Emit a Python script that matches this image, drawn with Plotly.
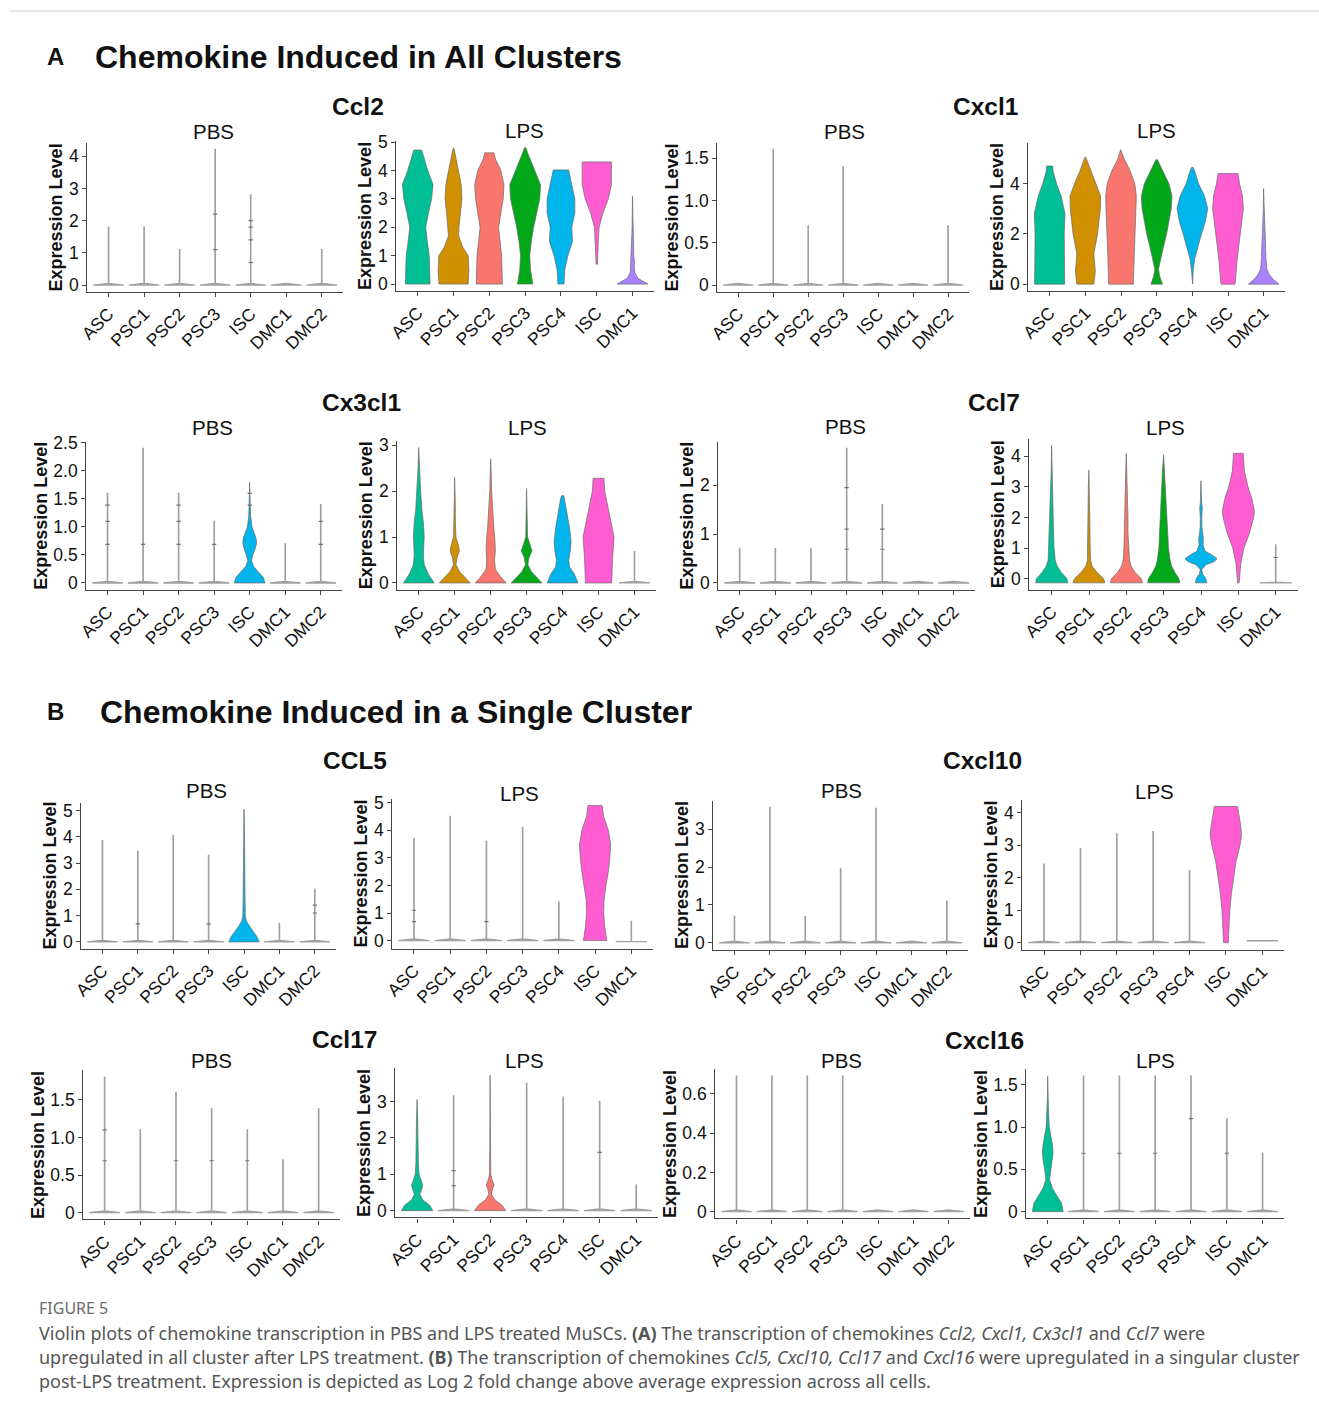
import plotly.graph_objects as go

W, H = 1319, 1414
FONT = "Liberation Sans, Arial, sans-serif"

PBS_CLUSTERS = ["ASC", "PSC1", "PSC2", "PSC3", "ISC", "DMC1", "DMC2"]
LPS_CLUSTERS = ["ASC", "PSC1", "PSC2", "PSC3", "PSC4", "ISC", "DMC1"]
PALETTE = ["#00BF96", "#D09000", "#F8766D", "#00A81A", "#00B4EC", "#FF5CD2", "#AA82FF"]

# Each violin: a number = max value of a collapsed (almost all zero) violin,
# or a density profile [[expression, relative half-width], ...]
CCL2_PBS = [1.8, 1.8, 1.1, 4.2, 2.8, 0.0, 1.1]
CCL2_LPS = [
    [[0, 0.8], [0.5, 0.78], [1, 0.75], [1.5, 0.62], [2, 0.52], [2.5, 0.7], [3, 0.9], [3.5, 1.0], [4, 0.65], [4.5, 0.38], [4.72, 0.25]],
    [[0, 0.95], [0.5, 1.0], [1, 0.95], [1.3, 0.6], [1.7, 0.33], [2, 0.35], [2.5, 0.45], [3, 0.55], [3.5, 0.5], [4, 0.32], [4.5, 0.15], [4.78, 0.03]],
    [[0, 0.85], [1, 0.8], [2, 0.6], [2.5, 0.75], [3, 0.9], [3.5, 0.95], [4, 0.75], [4.4, 0.4], [4.62, 0.3]],
    [[0, 0.5], [0.5, 0.35], [1, 0.3], [1.5, 0.4], [2, 0.55], [2.5, 0.75], [3, 0.95], [3.5, 1.0], [4, 0.6], [4.5, 0.25], [4.8, 0.04]],
    [[0, 0.2], [0.5, 0.25], [1, 0.45], [1.5, 0.75], [1.8, 0.72], [2, 0.7], [2.5, 0.9], [3, 0.9], [3.5, 0.7], [4.02, 0.5]],
    [[0.7, 0.04], [1, 0.08], [1.5, 0.1], [2, 0.15], [2.5, 0.4], [3, 0.75], [3.5, 0.95], [4, 0.95], [4.3, 0.95]],
    [[0, 1.0], [0.1, 0.7], [0.2, 0.35], [0.4, 0.15], [0.6, 0.1], [0.8, 0.12], [1.0, 0.08], [1.5, 0.06], [2, 0.03], [3.1, 0.008]],
]
CXCL1_PBS = [0.0, 1.6, 0.7, 1.4, 0.0, 0.0, 0.7]
CXCL1_LPS = [
    [[0, 0.98], [1, 0.95], [2, 0.95], [2.8, 1.0], [3.5, 0.75], [4, 0.45], [4.5, 0.22], [4.7, 0.2]],
    [[0, 0.55], [0.5, 0.65], [0.9, 0.6], [1.2, 0.55], [2, 0.8], [2.5, 0.9], [3, 0.98], [3.5, 1.0], [4, 0.7], [4.5, 0.35], [5.05, 0.03]],
    [[0, 0.8], [1, 0.85], [2, 0.9], [3, 0.98], [3.5, 1.0], [4, 0.9], [4.5, 0.6], [5, 0.2], [5.35, 0.02]],
    [[0, 0.38], [0.3, 0.2], [0.6, 0.12], [1, 0.25], [1.5, 0.45], [2, 0.65], [2.5, 0.8], [3, 0.95], [3.5, 1.0], [4, 0.8], [4.5, 0.4], [4.95, 0.05]],
    [[0, 0.02], [0.5, 0.05], [1, 0.15], [1.5, 0.35], [2, 0.6], [2.5, 0.85], [3, 1.0], [3.5, 0.8], [4, 0.4], [4.5, 0.15], [4.65, 0.05]],
    [[0, 0.46], [1, 0.6], [2, 0.8], [3, 1.0], [3.5, 0.95], [4, 0.75], [4.4, 0.65]],
    [[0, 1.0], [0.2, 0.6], [0.4, 0.35], [0.6, 0.2], [1, 0.15], [1.5, 0.12], [2, 0.1], [2.5, 0.04], [3, 0.02], [3.8, 0.008]],
]
CX3CL1_PBS = [
    1.6, 2.4, 1.6, 1.1,
    [[0, 1.0], [0.1, 0.9], [0.2, 0.55], [0.3, 0.25], [0.4, 0.12], [0.5, 0.2], [0.6, 0.35], [0.7, 0.45], [0.8, 0.42], [0.9, 0.3], [1.0, 0.15], [1.2, 0.06], [1.4, 0.04], [1.6, 0.02], [1.8, 0.008]],
    0.7, 1.4,
]
CX3CL1_LPS = [
    [[0, 1.0], [0.2, 0.6], [0.4, 0.35], [0.6, 0.3], [0.8, 0.32], [1.0, 0.35], [1.3, 0.3], [1.6, 0.2], [2, 0.12], [2.5, 0.05], [2.95, 0.008]],
    [[0, 1.0], [0.1, 0.7], [0.25, 0.3], [0.4, 0.08], [0.55, 0.15], [0.7, 0.3], [0.8, 0.25], [1.0, 0.08], [1.3, 0.04], [1.8, 0.03], [2.3, 0.008]],
    [[0, 1.0], [0.15, 0.6], [0.3, 0.3], [0.5, 0.25], [0.7, 0.3], [0.9, 0.28], [1.2, 0.2], [1.6, 0.12], [2.0, 0.06], [2.7, 0.008]],
    [[0, 1.0], [0.1, 0.7], [0.25, 0.3], [0.4, 0.08], [0.55, 0.15], [0.7, 0.35], [0.85, 0.2], [1.0, 0.06], [1.5, 0.03], [2.05, 0.008]],
    [[0, 1.0], [0.2, 0.75], [0.35, 0.45], [0.5, 0.4], [0.7, 0.5], [0.9, 0.55], [1.2, 0.45], [1.5, 0.3], [1.8, 0.15], [1.9, 0.08]],
    [[0, 0.85], [0.5, 0.9], [1.0, 1.0], [1.5, 0.7], [2.0, 0.4], [2.28, 0.35]],
    0.68,
]
CCL7_PBS = [0.7, 0.7, 0.7, 2.75, 1.6, 0.0, 0.0]
CCL7_LPS = [
    [[-0.14, 1.0], [0, 0.95], [0.2, 0.6], [0.4, 0.35], [0.6, 0.22], [1, 0.15], [1.5, 0.12], [2, 0.1], [2.5, 0.08], [3, 0.06], [3.5, 0.03], [4.35, 0.005]],
    [[-0.14, 1.0], [0, 0.9], [0.2, 0.5], [0.4, 0.2], [0.6, 0.1], [1, 0.07], [2, 0.05], [3, 0.04], [3.55, 0.008]],
    [[-0.14, 1.0], [0, 0.92], [0.2, 0.55], [0.4, 0.3], [0.6, 0.2], [1, 0.15], [1.5, 0.1], [2, 0.1], [2.5, 0.08], [3, 0.06], [3.5, 0.04], [4.1, 0.005]],
    [[-0.14, 1.0], [0, 0.95], [0.2, 0.7], [0.4, 0.5], [0.6, 0.4], [1, 0.3], [1.5, 0.25], [2, 0.2], [2.5, 0.15], [3, 0.12], [3.5, 0.08], [4.05, 0.005]],
    [[-0.14, 0.35], [0, 0.3], [0.15, 0.1], [0.3, 0.05], [0.45, 0.3], [0.55, 0.8], [0.65, 1.0], [0.8, 0.6], [0.9, 0.25], [1.1, 0.12], [1.3, 0.15], [1.45, 0.1], [1.7, 0.05], [2, 0.05], [2.3, 0.08], [2.5, 0.04], [3, 0.02], [3.2, 0.008]],
    [[-0.14, 0.05], [0, 0.08], [0.5, 0.15], [1, 0.35], [1.5, 0.7], [2, 0.95], [2.2, 1.0], [2.6, 0.85], [3, 0.6], [3.5, 0.38], [4.1, 0.3]],
    [[-0.14, 1.0], [-0.12, 0.012], [1.1, 0.012]],
]
CCL5_PBS = [
    3.85, 3.45, 4.05, 3.3,
    [[0, 1.0], [0.2, 0.85], [0.4, 0.6], [0.6, 0.35], [0.8, 0.15], [1, 0.08], [1.5, 0.06], [2, 0.06], [3, 0.05], [3.5, 0.05], [4, 0.03], [4.15, 0.01], [5.05, 0.006]],
    0.7, 2.0,
]
CCL5_LPS = [
    3.7, 4.5, 3.6, 4.1, 1.4,
    [[0, 0.75], [0.5, 0.62], [1, 0.55], [1.5, 0.58], [2, 0.7], [2.5, 0.85], [3, 0.95], [3.5, 1.0], [4, 0.85], [4.5, 0.55], [4.9, 0.45]],
    [[-0.04, 1.0], [-0.03, 0.012], [0.7, 0.012]],
]
CXCL10_PBS = [0.7, 3.58, 0.7, 1.95, 3.55, 0.0, 1.1]
CXCL10_LPS = [
    2.42, 2.9, 3.35, 3.42, 2.22,
    [[0, 0.15], [0.5, 0.2], [1, 0.25], [1.5, 0.35], [2, 0.5], [2.5, 0.65], [3, 0.9], [3.3, 1.0], [3.6, 0.95], [4, 0.8], [4.2, 0.75]],
    [[0.06, 1.0], [0.06, 0.0]],
]
CCL17_PBS = [1.8, 1.1, 1.6, 1.38, 1.1, 0.7, 1.38]
CCL17_LPS = [
    [[0, 1.0], [0.15, 0.8], [0.3, 0.35], [0.45, 0.18], [0.6, 0.3], [0.7, 0.35], [0.85, 0.25], [1.0, 0.12], [1.3, 0.08], [1.6, 0.05], [2, 0.05], [2.5, 0.04], [3.05, 0.008]],
    3.15,
    [[0, 1.0], [0.15, 0.75], [0.3, 0.3], [0.45, 0.08], [0.6, 0.15], [0.7, 0.25], [0.85, 0.12], [1.0, 0.04], [1.5, 0.03], [2, 0.02], [2.8, 0.01], [3.72, 0.006]],
    3.5, 3.12, 3.0, 0.7,
]
CXCL16_PBS = [0.69, 0.69, 0.69, 0.69, 0.0, 0.0, 0.0]
CXCL16_LPS = [
    [[0, 1.0], [0.1, 0.9], [0.2, 0.55], [0.28, 0.3], [0.38, 0.12], [0.5, 0.2], [0.6, 0.3], [0.7, 0.35], [0.8, 0.3], [0.9, 0.2], [1.0, 0.1], [1.2, 0.05], [1.42, 0.01], [1.6, 0.006]],
    1.6, 1.6, 1.6, 1.6, 1.1, 0.69,
]

# visible individual cells along the stems: [cluster index, expression]
CCL2_PBS_PTS = [[3, 1.1], [3, 2.2], [4, 0.7], [4, 1.4], [4, 1.8], [4, 2.0]]
CX3CL1_PBS_PTS = [[0, 0.69], [0, 1.1], [0, 1.39], [1, 0.69], [2, 0.69], [2, 1.1], [2, 1.39], [3, 0.69],
                  [4, 1.39], [4, 1.6], [6, 0.69], [6, 1.1]]
CCL7_PBS_PTS = [[3, 0.69], [3, 1.1], [3, 1.95], [4, 0.69], [4, 1.1]]
CCL7_LPS_PTS = [[6, 0.69]]
CCL5_PBS_PTS = [[1, 0.69], [3, 0.69], [6, 1.1], [6, 1.4]]
CCL5_LPS_PTS = [[0, 0.69], [0, 1.1], [2, 0.69]]
CCL17_PBS_PTS = [[0, 0.69], [0, 1.1], [2, 0.69], [3, 0.69], [4, 0.69]]
CCL17_LPS_PTS = [[1, 0.69], [1, 1.1], [5, 1.6]]
CXCL16_LPS_PTS = [[1, 0.69], [2, 0.69], [3, 0.69], [4, 1.1], [5, 0.69]]

# panel: data, cells, clusters, plot box (left, right, top, bottom px), y tick values, tick labels
PANELS = [
    (CCL2_PBS, CCL2_PBS_PTS, PBS_CLUSTERS, (88, 343, 142, 291), [0, 1, 2, 3, 4], None),
    (CCL2_LPS, [], LPS_CLUSTERS, (396, 653, 140, 290), [0, 1, 2, 3, 4, 5], None),
    (CXCL1_PBS, [], PBS_CLUSTERS, (716, 967, 142, 291), [0, 0.5, 1.0, 1.5], ["0", "0.5", "1.0", "1.5"]),
    (CXCL1_LPS, [], LPS_CLUSTERS, (1026, 1282, 142, 290), [0, 2, 4], None),
    (CX3CL1_PBS, CX3CL1_PBS_PTS, PBS_CLUSTERS, (87, 342, 441, 589), [0, 0.5, 1.0, 1.5, 2.0, 2.5], ["0", "0.5", "1.0", "1.5", "2.0", "2.5"]),
    (CX3CL1_LPS, [], LPS_CLUSTERS, (397, 655, 440, 589), [0, 1, 2, 3], None),
    (CCL7_PBS, CCL7_PBS_PTS, PBS_CLUSTERS, (717, 973, 441, 589), [0, 1, 2], None),
    (CCL7_LPS, CCL7_LPS_PTS, LPS_CLUSTERS, (1027, 1295, 438, 589), [0, 1, 2, 3, 4], None),
    (CCL5_PBS, CCL5_PBS_PTS, PBS_CLUSTERS, (82, 336, 802, 948), [0, 1, 2, 3, 4, 5], None),
    (CCL5_LPS, CCL5_LPS_PTS, LPS_CLUSTERS, (392, 652, 798, 948), [0, 1, 2, 3, 4, 5], None),
    (CXCL10_PBS, [], PBS_CLUSTERS, (712, 966, 800, 949), [0, 1, 2, 3], None),
    (CXCL10_LPS, [], LPS_CLUSTERS, (1020, 1281, 799, 949), [0, 1, 2, 3, 4], None),
    (CCL17_PBS, CCL17_PBS_PTS, PBS_CLUSTERS, (84, 340, 1070, 1219), [0, 0.5, 1.0, 1.5], ["0", "0.5", "1.0", "1.5"]),
    (CCL17_LPS, CCL17_LPS_PTS, LPS_CLUSTERS, (395, 657, 1068, 1217), [0, 1, 2, 3], None),
    (CXCL16_PBS, [], PBS_CLUSTERS, (714, 968, 1069, 1218), [0, 0.2, 0.4, 0.6], ["0", "0.2", "0.4", "0.6"]),
    (CXCL16_LPS, CXCL16_LPS_PTS, LPS_CLUSTERS, (1024, 1281, 1069, 1218), [0, 0.5, 1.0, 1.5], ["0", "0.5", "1.0", "1.5"]),
]

GENE_TITLES = [("Ccl2", 358, 106), ("Cxcl1", 983, 106), ("Cx3cl1", 361, 402), ("Ccl7", 992, 402),
               ("CCL5", 355, 760), ("Cxcl10", 980, 760), ("Ccl17", 344, 1039), ("Cxcl16", 982, 1040)]
SUB_TITLES = [("PBS", 214, 131), ("LPS", 524, 130), ("PBS", 843, 131), ("LPS", 1154, 130),
              ("PBS", 213, 427), ("LPS", 527, 427), ("PBS", 844, 426), ("LPS", 1163, 427),
              ("PBS", 207, 790), ("LPS", 519, 793), ("PBS", 840, 790), ("LPS", 1152, 791),
              ("PBS", 212, 1060), ("LPS", 524, 1060), ("PBS", 840, 1060), ("LPS", 1153, 1060)]

# compensation for the photographed page framing
SCX, OFFX = 0.990, 10.0
SCY, OFFY = 0.992, 8.0


def X(px):
    return ((px - OFFX) / SCX) / W


def Y(py):
    return 1 - ((py - OFFY) / SCY) / H


HALF = 0.43

fig = go.Figure()
layout = {}

for k, (data, pts, clusters, box, tv, tt) in enumerate(PANELS):
    n = k + 1
    xa, ya = f"x{n}", f"y{n}"
    allv = []
    for v in data:
        if isinstance(v, (int, float)):
            allv += [0, v]
        else:
            allv += [p[0] for p in v]
    lo, hi = min(allv), max(allv)
    span = hi - lo
    eps = 0.012 * span
    for i, v in enumerate(data):
        if isinstance(v, (int, float)):
            prof = [[0, 1.0], [eps, 0.012], [max(v, eps), 0.012]]
        else:
            prof = v
        stem = all(p[1] <= 0.02 for p in prof[1:])
        xs = [i + HALF * p[1] for p in prof] + [i - HALF * p[1] for p in reversed(prof)]
        ys = [p[0] for p in prof] + [p[0] for p in reversed(prof)]
        xs.append(xs[0])
        ys.append(ys[0])
        if stem:
            line = dict(color="#a0a0a0", width=1.3)
            fill = "#a0a0a0"
        else:
            line = dict(color="#6a6a6a", width=0.7)
            fill = PALETTE[i]
        fig.add_trace(go.Scatter(x=xs, y=ys, mode="lines", fill="toself", fillcolor=fill,
                                 line=line, xaxis=xa, yaxis=ya, hoverinfo="skip", showlegend=False))
    if pts:
        fig.add_trace(go.Scatter(x=[p[0] for p in pts], y=[p[1] for p in pts], mode="markers",
                                 marker=dict(symbol="line-ew", size=3, line=dict(color="#707070", width=1.2)),
                                 xaxis=xa, yaxis=ya, hoverinfo="skip", showlegend=False))
    l, r, t, b = box
    axcommon = dict(showline=True, linecolor="#444", linewidth=1.2, ticks="outside", ticklen=4,
                    tickcolor="#444", showgrid=False, zeroline=False,
                    tickfont=dict(family=FONT, size=17.5, color="#111"))
    layout[f"xaxis{n}"] = dict(domain=[X(l), X(r)], anchor=ya, range=[-0.6, len(clusters) - 0.4],
                               tickvals=list(range(len(clusters))), ticktext=clusters, tickangle=-45,
                               **axcommon)
    layout[f"yaxis{n}"] = dict(domain=[Y(b), Y(t)], anchor=xa, range=[lo - 0.05 * span, hi + 0.05 * span],
                               tickvals=tv, ticktext=tt if tt else [str(x) for x in tv],
                               title=dict(text="<b>Expression Level</b>", standoff=1,
                                          font=dict(family=FONT, size=18, color="#111")),
                               **axcommon)

ann = []
ann.append(dict(text="<b>A</b>", x=X(46), y=Y(56), xanchor="left", yanchor="middle",
                font=dict(family=FONT, size=24, color="#111")))
ann.append(dict(text="<b>Chemokine Induced in All Clusters</b>", x=X(94), y=Y(56), xanchor="left",
                yanchor="middle", font=dict(family=FONT, size=32, color="#111")))
ann.append(dict(text="<b>B</b>", x=X(46), y=Y(711), xanchor="left", yanchor="middle",
                font=dict(family=FONT, size=24, color="#111")))
ann.append(dict(text="<b>Chemokine Induced in a Single Cluster</b>", x=X(99), y=Y(711), xanchor="left",
                yanchor="middle", font=dict(family=FONT, size=32, color="#111")))
for txt, px, py in GENE_TITLES:
    ann.append(dict(text=f"<b>{txt}</b>", x=X(px), y=Y(py), xanchor="center", yanchor="middle",
                    font=dict(family=FONT, size=24.5, color="#111")))
for txt, px, py in SUB_TITLES:
    ann.append(dict(text=txt, x=X(px), y=Y(py), xanchor="center", yanchor="middle",
                    font=dict(family=FONT, size=20.5, color="#111")))

CAP_FONT = "Noto Sans, Open Sans, sans-serif"
ann.append(dict(text="FIGURE 5", x=X(38), y=Y(1308), xanchor="left", yanchor="middle",
                font=dict(family=CAP_FONT, size=16, color="#6a6a6a")))
CAPTION = [
    "Violin plots of chemokine transcription in PBS and LPS treated MuSCs. <b>(A)</b> The transcription of chemokines <i>Ccl2, Cxcl1, Cx3cl1</i> and <i>Ccl7</i> were",
    "upregulated in all cluster after LPS treatment. <b>(B)</b> The transcription of chemokines <i>Ccl5, Cxcl10, Ccl17</i> and <i>Cxcl16</i> were upregulated in a singular cluster",
    "post-LPS treatment. Expression is depicted as Log 2 fold change above average expression across all cells.",
]
for j, line in enumerate(CAPTION):
    ann.append(dict(text=line, x=X(38), y=Y(1333 + 24 * j), xanchor="left", yanchor="middle",
                    font=dict(family=CAP_FONT, size=18, color="#555")))
for a in ann:
    a.update(xref="paper", yref="paper", showarrow=False)

fig.update_layout(width=W, height=H, autosize=False, margin=dict(l=0, r=0, t=0, b=0),
                  paper_bgcolor="white", plot_bgcolor="white", annotations=ann,
                  shapes=[dict(type="line", xref="paper", yref="paper", x0=0, x1=1, y0=Y(10), y1=Y(10),
                               line=dict(color="#d0d0d0", width=1))],
                  **layout)
fig.write_html("out.html", config={"displayModeBar": False},
               post_script="document.body.style.margin='0px';document.body.style.overflow='hidden';")
